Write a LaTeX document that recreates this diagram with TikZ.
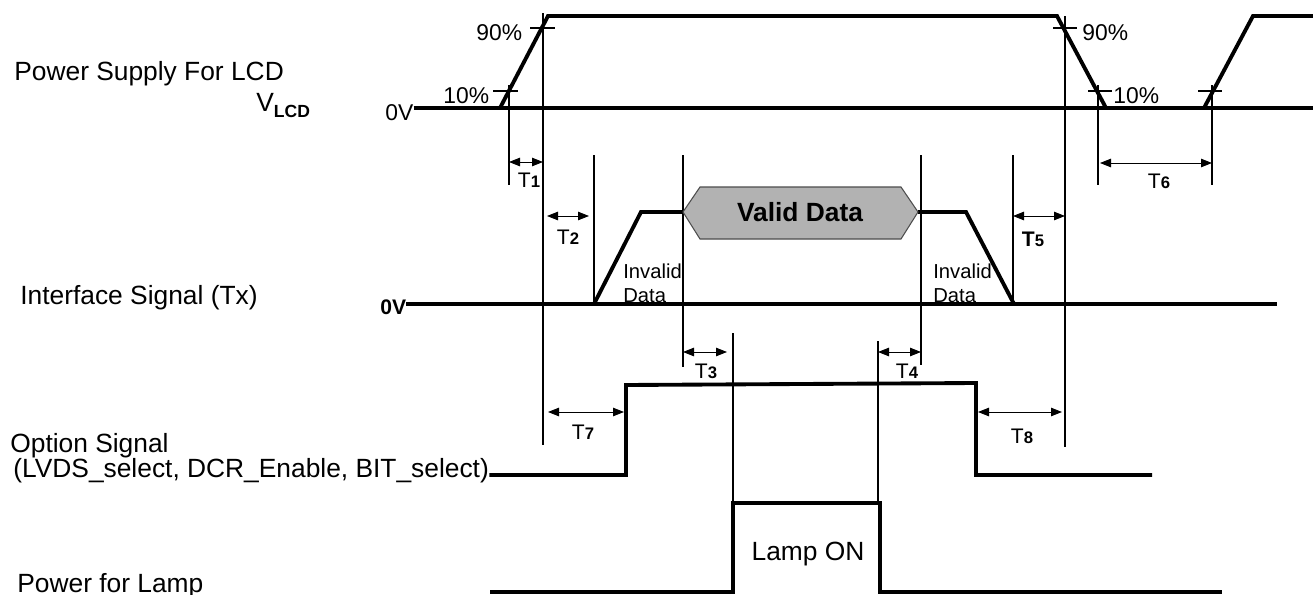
\documentclass[tikz,border=0pt]{standalone}
\usepackage{fontspec}
\setmainfont{Liberation Sans}
\usetikzlibrary{arrows.meta, positioning, calc}

\newcommand{\tlab}[1]{T{\bfseries\fontsize{9.5}{10}\selectfont #1}}

\tikzset{
  sig/.style={line width=2.2pt, line join=miter},
  guide/.style={line width=0.6pt},
  dim/.style={{Triangle[length=2.2mm,width=1.7mm]}-{Triangle[length=2.2mm,width=1.7mm]}, line width=0.5pt},
  lbl/.style={font=\fontsize{15}{18}\selectfont, inner sep=0pt},
  pct/.style={font=\fontsize{13}{15}\selectfont, inner sep=0pt},
  tname/.style={font=\fontsize{12}{14}\selectfont, inner sep=0pt},
  small/.style={font=\fontsize{11.5}{13.5}\selectfont, inner sep=0pt, align=left},
}

\begin{document}
\begin{tikzpicture}[x=0.02cm, y=-0.02cm]
\useasboundingbox (0,0) rectangle (1313,595);

% signal names
\node[lbl, anchor=base west] (lcd) at (14,80) {Power Supply For LCD};
\node[lbl, anchor=base west] (vlcd) at (256,112) {V\raisebox{-0.12cm}{\bfseries\fontsize{10}{12}\selectfont LCD}};
\node[lbl, anchor=base west] (tx) at (20,304) {Interface Signal (Tx)};
\node[lbl, anchor=base west] (opt) at (10,452) {Option Signal};
\node[lbl, anchor=base west] (optsub) at (13,477) {(LVDS\_select, DCR\_Enable, BIT\_select)};
\node[lbl, anchor=base west] (lamp) at (17,592) {Power for Lamp};

\node[pct, anchor=base west] (zlcd) at (385,120) {0V};
\node[pct, anchor=base west, font=\bfseries\fontsize{12}{14}\selectfont] (ztx) at (380,314) {0V};

% time marks
\coordinate (a) at (509,0);
\coordinate (b) at (543,0);
\coordinate (c) at (594,0);
\coordinate (d) at (683,0);
\coordinate (e) at (733,0);
\coordinate (f) at (878,0);
\coordinate (g) at (921,0);
\coordinate (h) at (1013,0);
\coordinate (k) at (1065,0);
\coordinate (m) at (1098,0);
\coordinate (n) at (1212,0);

% guide lines
\draw[guide] (a |- 0,85) -- (a |- 0,185);
\draw[guide] (b |- 0,13) -- (b |- 0,445);
\draw[guide] (c |- 0,155) -- (c |- 0,304);
\draw[guide] (d |- 0,155) -- (d |- 0,367);
\draw[guide] (e |- 0,333) -- (e |- 0,503);
\draw[guide] (f |- 0,341) -- (f |- 0,503);
\draw[guide] (g |- 0,155) -- (g |- 0,365);
\draw[guide] (h |- 0,155) -- (h |- 0,304);
\draw[guide] (k |- 0,16) -- (k |- 0,447);
\draw[guide] (m |- 0,85) -- (m |- 0,185);
\draw[guide] (n |- 0,85) -- (n |- 0,185);

% 10% / 90% ticks
\draw[guide] (493,91) -- (518,91);
\draw[guide] (530,28) -- (555,28);
\draw[guide] (1053,28) -- (1077,28);
\draw[guide] (1088,91) -- (1112,91);
\draw[guide] (1198,91) -- (1222,91);
\node[pct, anchor=base west] (p90a) at (476,40) {90\%};
\node[pct, anchor=base west] (p10a) at (443,103) {10\%};
\node[pct, anchor=base west] (p90b) at (1082,40) {90\%};
\node[pct, anchor=base west] (p10b) at (1113,103) {10\%};

% VLCD
\draw[sig] (zlcd.east |- 0,108) -- (1313,108);
\draw[sig] (500,108) -- (548,16) -- (1057,16) -- (1106,108);
\draw[sig] (1204,108) -- (1253,16) -- (1313,16);

% interface signal
\draw[sig] (ztx.east |- 0,304) -- (1277,304);
\draw[sig] (594,304) -- (641,212) -- (683,212);
\draw[sig] (918,212) -- (966,212) -- (1014,304);
\draw[fill=black!30, draw=black!70, line width=0.6pt]
  (683,212) -- (700,187) -- (901,187) -- (918,212) -- (901,239) -- (700,239) -- cycle;
\node[lbl, font=\bfseries\fontsize{15}{18}\selectfont] (valid) at (800,212) {Valid Data};
\node[small, anchor=base west] (inv1) at (623,278) {Invalid};
\node[small, anchor=base west] (inv1b) at (623,302) {Data};
\node[small, anchor=base west] (inv2) at (933,278) {Invalid};
\node[small, anchor=base west] (inv2b) at (933,302) {Data};

% option signal
\draw[sig] (optsub.east |- 0,475) -- (626,475) -- (626,385) -- (976,383) -- (976,475) -- (1152,475);

% lamp
\draw[sig] (490,592) -- (733,592) -- (733,503) -- (880,503) -- (880,592) -- (1222,592);
\node[lbl] (lampon) at (808,554) {Lamp ON};

% timing arrows
\draw[dim] (a |- 0,162) -- (b |- 0,162);
\node[tname] (t1) at (529,180) {\tlab{1}};
\draw[dim] (547,216) -- (589,216);
\node[tname] (t2) at (568,237) {\tlab{2}};
\draw[dim] (d |- 0,352) -- (727,352);
\node[tname] (t3) at (706,371) {\tlab{3}};
\draw[dim] (f |- 0,352) -- (g |- 0,352);
\node[tname] (t4) at (907,371) {\tlab{4}};
\draw[dim] (h |- 0,216) -- (k |- 0,216);
\node[tname, font=\bfseries\fontsize{12}{14}\selectfont] (t5) at (1033,239) {T{\fontsize{9.5}{10}\selectfont 5}};
\draw[dim] (1100,163) -- (n |- 0,163);
\node[tname] (t6) at (1159,181) {\tlab{6}};
\draw[dim] (548,412) -- (624,412);
\node[tname] (t7) at (583,432) {\tlab{7}};
\draw[dim] (978,412) -- (1062,412);
\node[tname] (t8) at (1022,436) {\tlab{8}};
\end{tikzpicture}
\end{document}
